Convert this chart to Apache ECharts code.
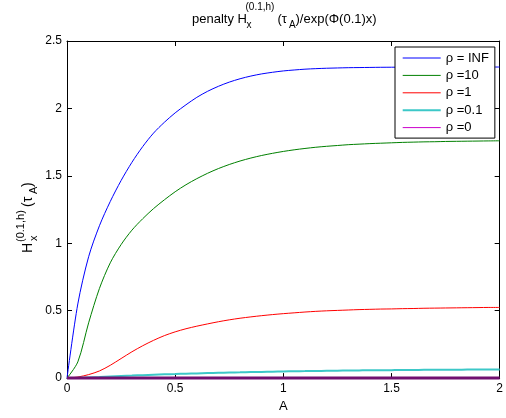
<!DOCTYPE html>
<html>
<head>
<meta charset="utf-8">
<script src="https://cdn.jsdelivr.net/npm/echarts@6/dist/echarts.min.js"></script>
<style>html,body{margin:0;padding:0;background:#fff}#c{width:506px;height:418px}</style>
</head>
<body>
<div id="c"></div>
<script>
const A = [0,0.05,0.1,0.15,0.2,0.25,0.3,0.35,0.4,0.45,0.5,0.55,0.6,0.65,0.7,0.75,0.8,0.85,0.9,0.95,1.0,
           1.05,1.1,1.15,1.2,1.25,1.3,1.35,1.4,1.45,1.5,1.55,1.6,1.65,1.7,1.75,1.8,1.85,1.9,1.95,2.0];
const rhoInf = [0,0.55,0.9,1.13,1.31,1.465,1.6,1.717,1.817,1.897,1.967,2.027,2.082,2.127,2.164,2.195,2.22,2.24,2.256,2.268,2.278,
                2.285,2.291,2.295,2.298,2.3,2.302,2.303,2.304,2.305,2.3055,2.306,2.306,2.306,2.3065,2.3065,2.307,2.307,2.307,2.307,2.307];
const rho10 = [0,0.12,0.41,0.665,0.855,0.99,1.097,1.182,1.257,1.322,1.382,1.434,1.479,1.519,1.554,1.584,1.61,1.632,1.651,1.667,1.681,
               1.693,1.703,1.712,1.719,1.725,1.731,1.735,1.739,1.742,1.745,1.748,1.75,1.752,1.753,1.755,1.756,1.757,1.758,1.759,1.76];
const rho1 = [0,0.008,0.026,0.053,0.095,0.145,0.195,0.24,0.28,0.315,0.343,0.366,0.385,0.402,0.418,0.432,0.444,0.454,0.463,0.471,0.478,
              0.484,0.49,0.495,0.499,0.502,0.505,0.508,0.51,0.512,0.513,0.515,0.516,0.518,0.519,0.52,0.521,0.522,0.523,0.524,0.524];
const rho01 = [0,0.002,0.005,0.008,0.012,0.016,0.019,0.022,0.025,0.028,0.03,0.033,0.035,0.037,0.039,0.041,0.043,0.045,0.046,0.048,0.049,
               0.051,0.052,0.053,0.054,0.055,0.056,0.057,0.058,0.058,0.059,0.06,0.06,0.061,0.061,0.062,0.062,0.063,0.063,0.064,0.064];
const rho0 = [0,0,0,0,0,0,0,0,0,0,0,0,0,0,0,0,0,0,0,0,0,0,0,0,0,0,0,0,0,0,0,0,0,0,0,0,0,0,0,0,0];
const names = ['ρ = INF','ρ =10','ρ =1','ρ =0.1','ρ =0'];
const xTicks = [0,0.5,1,1.5,2];
const yTicks = [0,0.5,1,1.5,2,2.5];

const FF = '"Liberation Sans", Arial, Helvetica, sans-serif';
const pairs = ys => A.map((a,i)=>[a, ys[i]]);
const chart = echarts.init(document.getElementById('c'), null, {renderer:'canvas'});

function axisCommon(extra){
  return Object.assign({
    type:'value',
    axisLine:{show:true, onZero:false, lineStyle:{color:'#000', width:1}},
    axisTick:{show:true, inside:true, length:5, lineStyle:{color:'#000'}},
    splitLine:{show:false},
    axisLabel:{color:'#000', fontSize:12, fontFamily:FF, margin:5}
  }, extra);
}

function txt(x,y,t,size,align){
  return {type:'text', x:x, y:y, silent:true,
    style:{text:t, fontSize:size, fontFamily:FF, fill:'#000', align:align||'left', verticalAlign:'middle'}};
}

const series = [
  {data:pairs(rhoInf), color:'#0000ff', width:1},
  {data:pairs(rho10), color:'#008000', width:1},
  {data:pairs(rho1), color:'#ff0000', width:1},
  {data:pairs(rho01), color:'#3cc8c8', width:2},
  {data:pairs(rho0), color:'#701070', width:3}
].map((s,i)=>({
  name:names[i], type:'line', data:s.data, smooth:0.3, showSymbol:false, symbol:'none',
  clip:false, lineStyle:{color:s.color, width:s.width}, itemStyle:{color:s.color}
}));

const legendColors = ['#0000ff','#008000','#ff0000','#3cc8c8','#cc00cc'];
const legendWidths = [1,1,1,2,1];

chart.setOption({
  animation:false,
  backgroundColor:'#fff',
  grid:{left:67, top:41, width:435, height:341},
  xAxis:[
    axisCommon({min:xTicks[0], max:xTicks[xTicks.length-1], interval:0.5, position:'bottom',
      name:'A', nameLocation:'middle', nameGap:12,
      nameTextStyle:{color:'#000', fontSize:13, fontFamily:FF, verticalAlign:'top'}}),
    axisCommon({min:0, max:2, interval:0.5, position:'top', axisLabel:{show:false}})
  ],
  yAxis:[
    axisCommon({min:yTicks[0], max:yTicks[yTicks.length-1], interval:0.5, position:'left'}),
    axisCommon({min:0, max:2.5, interval:0.5, position:'right', axisLabel:{show:false}})
  ],
  legend:{
    orient:'vertical', left:395, top:47, padding:[4.5,6,4,6.7],
    itemWidth:38, itemHeight:14, itemGap:4.4,
    borderColor:'#000', borderWidth:1, backgroundColor:'#fff',
    itemStyle:{opacity:0},
    textStyle:{color:'#000', fontSize:13, fontFamily:FF},
    data:names.map((n,i)=>({name:n,
      lineStyle:{color:legendColors[i], width:legendWidths[i], opacity:1}}))
  },
  series:series,
  graphic:[
    txt(192,19,'penalty H',13),
    txt(245.5,7,'(0.1,h)',10),
    txt(246.5,25,'x',10),
    txt(277.5,19,'(τ',13),
    txt(289,25.5,'A',10),
    txt(295.5,19,')/exp(Φ(0.1)x)',13),
    {type:'group', x:28, y:253, rotation:Math.PI/2, silent:true, children:[
      txt(0,0,'H',14),
      txt(11,-7,'(0.1,h)',11),
      txt(12,6,'x',11),
      txt(46,0,'(τ',14),
      txt(59,6,'A',11),
      txt(66,0,')',14)
    ]}
  ]
});
</script>
</body>
</html>
